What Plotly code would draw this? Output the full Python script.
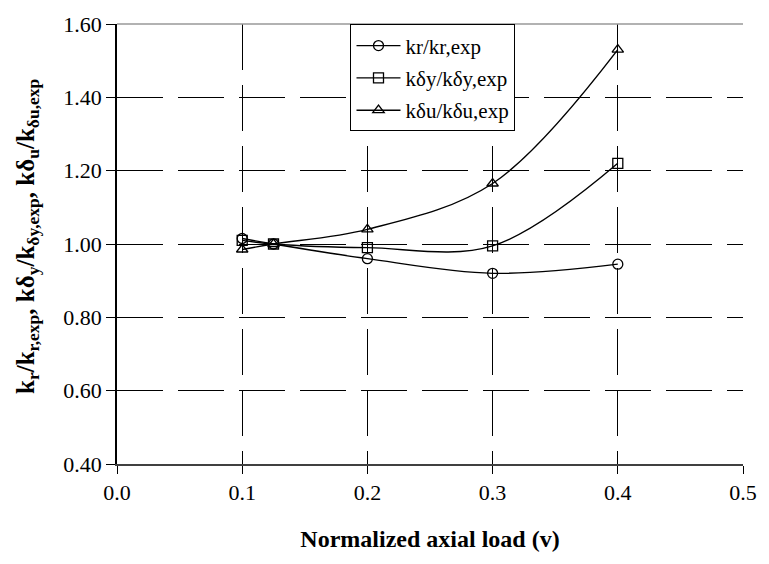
import plotly.graph_objects as go

# Data
v = [0.1, 0.125, 0.2, 0.3, 0.4]
kr_ratio = [1.015, 1.00, 0.96, 0.92, 0.945]
kdy_ratio = [1.01, 1.00, 0.99, 0.995, 1.22]
kdu_ratio = [0.985, 1.00, 1.04, 1.165, 1.53]

series_names = ["kr/kr,exp", "kδy/kδy,exp", "kδu/kδu,exp"]
series_values = [kr_ratio, kdy_ratio, kdu_ratio]
symbols = ["circle-open", "square-open", "triangle-up-open"]

x_ticks = [0.0, 0.1, 0.2, 0.3, 0.4, 0.5]
x_ticklabels = ["0.0", "0.1", "0.2", "0.3", "0.4", "0.5"]
y_ticks = [0.4, 0.6, 0.8, 1.0, 1.2, 1.4, 1.6]
y_ticklabels = ["0.40", "0.60", "0.80", "1.00", "1.20", "1.40", "1.60"]

x_title = "<b>Normalized axial load (v)</b>"
y_title = ("<b>k<sub>r</sub>/k<sub>r,exp</sub>, kδ<sub>y</sub>/k<sub>δy,exp</sub>, "
           "kδ<sub>u</sub>/k<sub>δu,exp</sub></b>")

FONT = "Liberation Serif"

fig = go.Figure()
for i, (name, vals, sym) in enumerate(zip(series_names, series_values, symbols)):
    fig.add_trace(go.Scatter(
        x=v, y=vals, name=name, mode="lines+markers", legendgroup=f"g{i}",
        line=dict(color="black", width=1.4, shape="spline", smoothing=1.0),
        marker=dict(symbol=sym, size=10, color="black", line=dict(color="black", width=1.3)),
    ))

fig.update_layout(
    width=769, height=564,
    margin=dict(l=117, r=19, t=18, b=100),
    paper_bgcolor="white", plot_bgcolor="white",
    font=dict(family=FONT, color="black", size=20),
    showlegend=True,
    legend=dict(
        x=0.373, y=0.999, xanchor="left", yanchor="top",
        bgcolor="white", bordercolor="black", borderwidth=1,
        font=dict(family=FONT, size=21, color="black"),
        tracegroupgap=2, itemwidth=44,
    ),
    xaxis=dict(
        range=[0, 0.5], tickvals=x_ticks, ticktext=x_ticklabels,
        showgrid=True, gridcolor="black", gridwidth=1, griddash="46px,15px",
        showline=True, linecolor="#404040", linewidth=2,
        ticks="outside", ticklen=8, tickcolor="black", tickwidth=1,
        zeroline=False,
        tickfont=dict(family=FONT, size=22),
        title=dict(text=x_title, font=dict(family=FONT, size=24), standoff=26),
    ),
    yaxis=dict(
        range=[0.4, 1.6], tickvals=y_ticks, ticktext=y_ticklabels,
        showgrid=True, gridcolor="black", gridwidth=1, griddash="46px,15px",
        showline=True, linecolor="black", linewidth=1.5,
        ticks="outside", ticklen=9, tickcolor="black", tickwidth=1,
        zeroline=False,
        tickfont=dict(family=FONT, size=22),
    ),
)
fig.add_annotation(
    text=y_title, xref="paper", yref="paper", x=0, y=0.5,
    xanchor="center", yanchor="middle", xshift=-90, yshift=8, textangle=-90,
    showarrow=False, font=dict(family=FONT, size=25, color="black"),
)
fig.add_shape(type="line", xref="paper", yref="paper", x0=0, x1=1, y0=1, y1=1,
              line=dict(color="#999999", width=1.5))

fig.write_html("out.html")
